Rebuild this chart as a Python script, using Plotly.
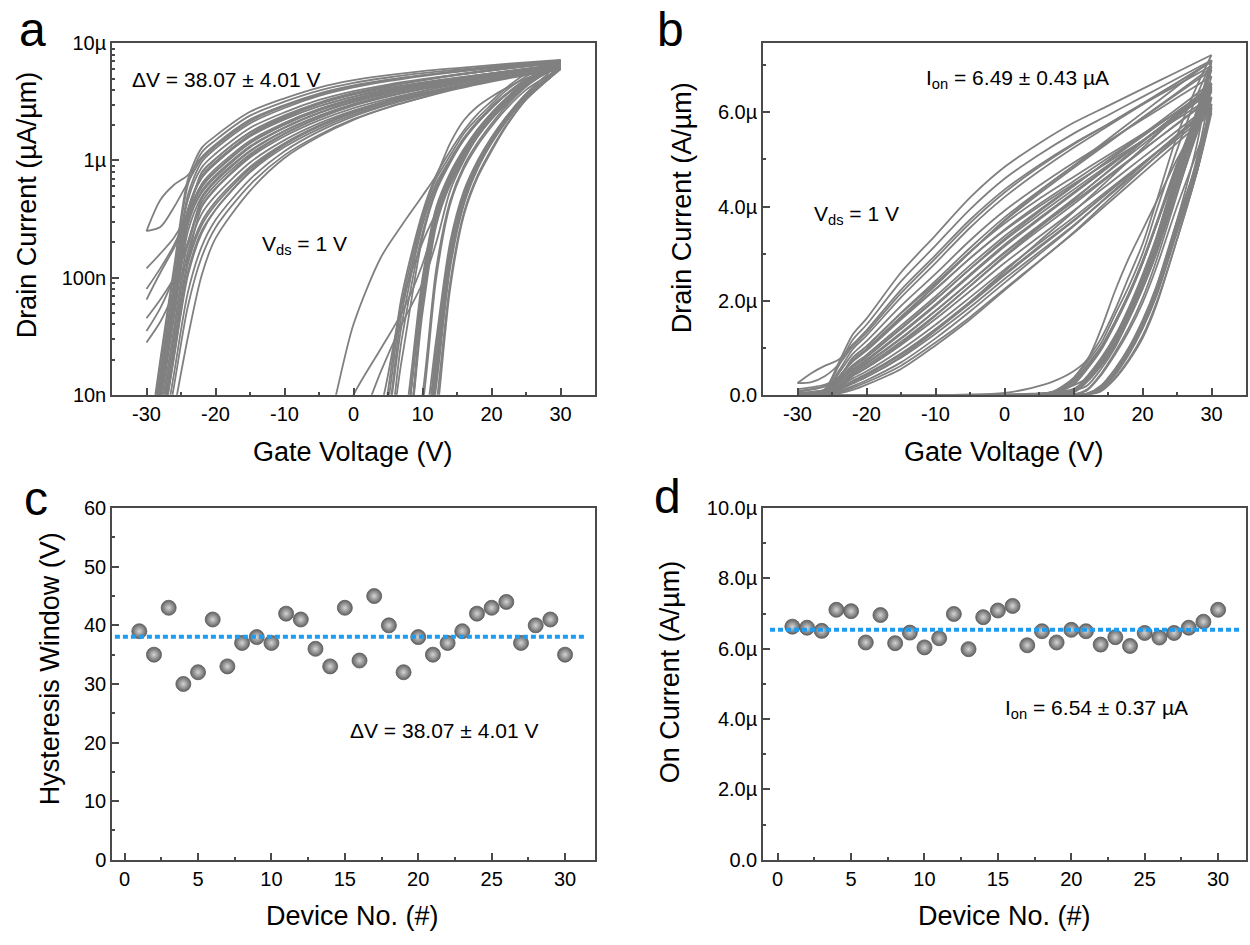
import numpy as np
import plotly.graph_objects as go

W, H = 1250, 945

# ---------------- data ----------------
# gate-voltage sample points of the backward (30 -> -30 V) and forward (-30 -> 30 V) sweeps
vg_backward = [30, 25, 20, 15, 10, 5, 0, -5, -10, -15, -20, -22, -24, -26, -28, -30]
vg_forward = [-30, -20, -10, -5, 0, 4, 7, 10, 12, 14, 16, 18, 20, 22, 25, 28, 30]

# drain current (uA/um) of the 30 devices, backward sweep
backward_ua = [
    [6.63, 6.08, 5.53, 4.98, 4.43, 3.89, 3.31, 2.68, 2.02, 1.40, 0.80, 0.59, 0.30, 0.056, 0.0093, 0.0016],
    [6.60, 5.92, 5.24, 4.56, 3.89, 3.26, 2.62, 1.97, 1.36, 0.81, 0.38, 0.24, 0.104, 0.021, 0.004, 0.0009],
    [6.51, 5.95, 5.39, 4.83, 4.27, 3.72, 3.15, 2.53, 1.89, 1.29, 0.72, 0.53, 0.32, 0.18, 0.11, 0.065],
    [7.11, 6.72, 6.33, 5.94, 5.55, 5.10, 4.59, 3.94, 3.17, 2.41, 1.49, 1.17, 0.62, 0.113, 0.0185, 0.0027],
    [7.07, 6.63, 6.19, 5.75, 5.32, 4.84, 4.30, 3.65, 2.90, 2.16, 1.32, 1.03, 0.65, 0.40, 0.27, 0.25],
    [6.18, 5.53, 4.88, 4.23, 3.58, 2.98, 2.38, 1.77, 1.20, 0.69, 0.31, 0.184, 0.075, 0.0153, 0.0031, 0.0008],
    [6.96, 6.42, 5.89, 5.35, 4.82, 4.27, 3.69, 3.03, 2.33, 1.66, 0.97, 0.73, 0.38, 0.070, 0.0117, 0.0018],
    [6.16, 5.48, 4.80, 4.13, 3.45, 2.83, 2.22, 1.60, 1.05, 0.55, 0.216, 0.105, 0.031, 0.0074, 0.0018, 0.0006],
    [6.46, 5.89, 5.31, 4.74, 4.16, 3.60, 3.03, 2.40, 1.78, 1.19, 0.66, 0.47, 0.20, 0.10, 0.055, 0.035],
    [6.04, 5.43, 4.82, 4.21, 3.60, 3.03, 2.46, 1.86, 1.30, 0.79, 0.38, 0.25, 0.112, 0.0217, 0.0041, 0.0009],
    [6.30, 5.75, 5.20, 4.65, 4.10, 3.57, 3.01, 2.40, 1.79, 1.21, 0.68, 0.49, 0.247, 0.046, 0.0079, 0.0013],
    [6.99, 6.58, 6.17, 5.75, 5.34, 4.88, 4.36, 3.72, 2.97, 2.23, 1.37, 1.07, 0.75, 0.62, 0.46, 0.25],
    [5.99, 5.35, 4.71, 4.07, 3.43, 2.84, 2.25, 1.65, 1.11, 0.62, 0.267, 0.150, 0.057, 0.012, 0.0025, 0.0007],
    [6.90, 6.39, 5.88, 5.37, 4.86, 4.33, 3.77, 3.12, 2.42, 1.74, 1.03, 0.78, 0.36, 0.22, 0.16, 0.12],
    [7.09, 6.63, 6.17, 5.71, 5.25, 4.75, 4.20, 3.55, 2.80, 2.07, 1.26, 0.97, 0.51, 0.094, 0.0155, 0.0023],
    [7.22, 6.86, 6.50, 6.14, 5.78, 5.34, 4.84, 4.19, 3.39, 2.60, 1.62, 1.28, 0.69, 0.124, 0.020, 0.0029],
    [6.10, 5.50, 4.90, 4.31, 3.71, 3.15, 2.57, 1.98, 1.40, 0.88, 0.445, 0.30, 0.14, 0.027, 0.0049, 0.001],
    [6.50, 5.95, 5.40, 4.85, 4.30, 3.75, 3.19, 2.56, 1.92, 1.32, 0.75, 0.55, 0.28, 0.051, 0.0088, 0.0015],
    [6.18, 5.61, 5.04, 4.47, 3.91, 3.36, 2.80, 2.20, 1.61, 1.06, 0.57, 0.40, 0.15, 0.075, 0.042, 0.028],
    [6.54, 6.02, 5.49, 4.97, 4.45, 3.92, 3.37, 2.75, 2.09, 1.47, 0.85, 0.63, 0.33, 0.060, 0.0101, 0.0016],
    [6.50, 6.01, 5.52, 5.03, 4.54, 4.05, 3.51, 2.90, 2.24, 1.60, 0.94, 0.71, 0.37, 0.068, 0.0114, 0.0018],
    [6.12, 5.51, 4.91, 4.30, 3.69, 3.12, 2.54, 1.94, 1.37, 0.85, 0.42, 0.28, 0.13, 0.025, 0.0046, 0.0009],
    [6.33, 5.76, 5.19, 4.62, 4.05, 3.50, 2.93, 2.31, 1.70, 1.13, 0.62, 0.44, 0.19, 0.10, 0.065, 0.045],
    [6.08, 5.50, 4.92, 4.35, 3.77, 3.22, 2.66, 2.07, 1.49, 0.96, 0.50, 0.35, 0.167, 0.032, 0.0056, 0.0011],
    [6.45, 5.93, 5.40, 4.88, 4.36, 3.83, 3.28, 2.67, 2.03, 1.42, 0.81, 0.61, 0.31, 0.057, 0.0097, 0.0016],
    [6.32, 5.86, 5.40, 4.94, 4.48, 4.00, 3.49, 2.90, 2.25, 1.63, 0.97, 0.73, 0.38, 0.070, 0.0117, 0.0018],
    [6.45, 6.00, 5.54, 5.09, 4.63, 4.16, 3.64, 3.04, 2.37, 1.73, 1.03, 0.79, 0.36, 0.19, 0.12, 0.08],
    [6.60, 5.98, 5.37, 4.75, 4.14, 3.55, 2.95, 2.31, 1.68, 1.09, 0.58, 0.41, 0.20, 0.0375, 0.0066, 0.0012],
    [6.77, 6.31, 5.85, 5.39, 4.93, 4.44, 3.91, 3.28, 2.57, 1.89, 1.14, 0.87, 0.46, 0.084, 0.0139, 0.0021],
    [7.11, 6.55, 5.99, 5.43, 4.87, 4.31, 3.71, 3.03, 2.32, 1.64, 0.95, 0.71, 0.37, 0.068, 0.0114, 0.0018],
]

# drain current (uA/um) of the 30 devices, forward sweep
forward_ua = [
    [.001, .001, .001, .001, .001, .002, .02, .22, .55, .95, 1.5, 2.1, 2.8, 3.6, 4.9, 6.0, 6.63],
    [.001, .001, .001, .001, .001, .001, .001, .002, .012, .12, .42, .85, 1.4, 2.1, 3.5, 5.1, 6.60],
    [.001, .001, .001, .002, .01, .025, .05, .13, .32, .72, 1.2, 1.8, 2.5, 3.3, 4.6, 5.8, 6.51],
    [.001, .001, .001, .001, .001, .001, .003, .09, .38, .75, 1.2, 1.8, 2.5, 3.3, 4.7, 6.1, 7.11],
    [.001, .001, .001, .001, .001, .004, .06, .33, .70, 1.1, 1.7, 2.3, 3.0, 3.9, 5.2, 6.4, 7.07],
    [.001, .001, .001, .001, .001, .001, .001, .003, .02, .16, .50, .95, 1.5, 2.2, 3.6, 5.0, 6.18],
    [.001, .001, .001, .001, .001, .001, .002, .07, .33, .68, 1.12, 1.7, 2.35, 3.1, 4.5, 5.9, 6.96],
    [.001, .001, .001, .001, .001, .001, .001, .001, .008, .09, .36, .75, 1.25, 1.95, 3.3, 4.8, 6.16],
    [.001, .001, .001, .003, .04, .15, .28, .50, .75, 1.4, 2.2, 2.9, 3.5, 4.1, 5.0, 5.8, 6.46],
    [.001, .001, .001, .001, .001, .001, .001, .008, .10, .42, .85, 1.35, 1.95, 2.7, 4.0, 5.2, 6.04],
    [.001, .001, .001, .001, .001, .003, .04, .28, .62, 1.0, 1.55, 2.15, 2.8, 3.6, 4.8, 5.8, 6.30],
    [.001, .001, .001, .001, .001, .001, .004, .10, .40, .78, 1.25, 1.85, 2.55, 3.35, 4.8, 6.1, 6.99],
    [.001, .001, .001, .001, .001, .001, .001, .002, .015, .14, .46, .90, 1.45, 2.15, 3.5, 4.8, 5.99],
    [.001, .001, .001, .001, .002, .008, .06, .20, .36, .62, 1.05, 1.65, 2.3, 3.1, 4.5, 5.9, 6.90],
    [.001, .001, .001, .001, .001, .001, .002, .06, .30, .66, 1.1, 1.68, 2.35, 3.15, 4.6, 6.0, 7.09],
    [.001, .001, .001, .001, .001, .005, .07, .36, .75, 1.2, 1.8, 2.5, 3.2, 4.1, 5.5, 6.6, 7.22],
    [.001, .001, .001, .001, .001, .001, .001, .002, .018, .15, .48, .92, 1.48, 2.2, 3.5, 4.9, 6.10],
    [.001, .001, .001, .001, .001, .001, .003, .08, .36, .72, 1.15, 1.72, 2.4, 3.15, 4.5, 5.7, 6.50],
    [.001, .001, .001, .001, .001, .001, .001, .003, .025, .18, .52, .98, 1.55, 2.25, 3.6, 4.9, 6.18],
    [.001, .001, .001, .001, .004, .016, .04, .09, .20, .55, 1.0, 1.6, 2.25, 3.0, 4.3, 5.6, 6.54],
    [.001, .001, .001, .001, .001, .002, .03, .24, .58, .98, 1.5, 2.1, 2.8, 3.6, 4.8, 5.9, 6.50],
    [.001, .001, .001, .001, .001, .001, .001, .001, .006, .08, .34, .72, 1.2, 1.9, 3.3, 4.8, 6.12],
    [.001, .001, .001, .001, .001, .001, .002, .05, .28, .62, 1.05, 1.6, 2.25, 3.0, 4.4, 5.6, 6.33],
    [.001, .001, .001, .001, .001, .001, .001, .002, .014, .13, .44, .88, 1.42, 2.1, 3.45, 4.8, 6.08],
    [.001, .001, .001, .001, .001, .001, .003, .09, .38, .74, 1.18, 1.75, 2.42, 3.2, 4.55, 5.8, 6.45],
    [.001, .001, .001, .001, .001, .001, .001, .004, .03, .20, .55, 1.0, 1.58, 2.3, 3.7, 5.0, 6.32],
    [.001, .001, .001, .001, .001, .003, .05, .30, .64, 1.02, 1.55, 2.15, 2.85, 3.65, 4.9, 5.9, 6.45],
    [.001, .001, .001, .001, .001, .001, .002, .06, .32, .68, 1.1, 1.66, 2.3, 3.1, 4.5, 5.8, 6.60],
    [.001, .001, .001, .001, .001, .001, .001, .01, .12, .45, .90, 1.42, 2.05, 2.85, 4.25, 5.7, 6.77],
    [.001, .001, .001, .001, .001, .001, .001, .002, .02, .17, .50, .95, 1.52, 2.28, 3.7, 5.4, 7.11],
]

device_no = list(range(1, 31))
hysteresis_v = [39, 35, 43, 30, 32, 41, 33, 37, 38, 37, 42, 41, 36, 33, 43,
                34, 45, 40, 32, 38, 35, 37, 39, 42, 43, 44, 37, 40, 41, 35]
on_current_ua = [6.63, 6.60, 6.51, 7.11, 7.07, 6.18, 6.96, 6.16, 6.46, 6.04,
                 6.30, 6.99, 5.99, 6.90, 7.09, 7.22, 6.10, 6.50, 6.18, 6.54,
                 6.50, 6.12, 6.33, 6.08, 6.45, 6.32, 6.45, 6.60, 6.77, 7.11]

# tick labels
vg_ticks = [-30, -20, -10, 0, 10, 20, 30]
vg_ticktext = ["-30", "-20", "-10", "0", "10", "20", "30"]
log_ticks = [1e-8, 1e-7, 1e-6, 1e-5]
log_ticktext = ["10n", "100n", "1\u00b5", "10\u00b5"]
lin_b_ticks = [0, 2e-6, 4e-6, 6e-6]
lin_b_ticktext = ["0.0", "2.0\u00b5", "4.0\u00b5", "6.0\u00b5"]
dev_ticks = [0, 5, 10, 15, 20, 25, 30]
dv_ticks = [0, 10, 20, 30, 40, 50, 60]
ion_ticks = [0, 2e-6, 4e-6, 6e-6, 8e-6, 10e-6]
ion_ticktext = ["0.0", "2.0\u00b5", "4.0\u00b5", "6.0\u00b5", "8.0\u00b5", "10.0\u00b5"]

# ---------------- styling ----------------
FONT = "Liberation Sans, Arial, Helvetica, sans-serif"
CURVE = "#808080"
AXC = "#4a4a4a"
BLUE = "#1e9cf0"


def fx(px):
    return px / W


def fy(py):
    return 1 - py / H


fig = go.Figure()

for i in range(len(backward_ua)):
    yb = [v * 1e-6 for v in backward_ua[i]]
    yf = [v * 1e-6 for v in forward_ua[i]]
    for xs, ys in ((vg_backward, yb), (vg_forward, yf)):
        for xa, ya in (("x", "y"), ("x2", "y2")):
            fig.add_trace(go.Scatter(
                x=xs, y=ys, xaxis=xa, yaxis=ya, mode="lines",
                line=dict(color=CURVE, width=1.8, shape="spline", smoothing=0.8),
                hoverinfo="skip", showlegend=False))

sphere = dict(size=15, color="#626262",
              gradient=dict(type="radial", color="#d4d4d4"),
              line=dict(width=0.8, color="#5a5a5a"))
fig.add_trace(go.Scatter(x=device_no, y=hysteresis_v, xaxis="x3", yaxis="y3",
                         mode="markers", marker=sphere, showlegend=False))
fig.add_trace(go.Scatter(x=device_no, y=[v * 1e-6 for v in on_current_ua],
                         xaxis="x4", yaxis="y4", mode="markers", marker=sphere,
                         showlegend=False))


def axis(**kw):
    base = dict(showline=True, linecolor=AXC, linewidth=1.5, mirror=True,
                ticks="inside", ticklen=7, tickwidth=1.5, tickcolor=AXC,
                showgrid=False, zeroline=False,
                tickfont=dict(family=FONT, size=20, color="black"))
    base.update(kw)
    return base


def minor(**kw):
    m = dict(ticks="inside", ticklen=3.5, tickwidth=1.5, tickcolor=AXC, showgrid=False)
    m.update(kw)
    return m


A_X = [fx(112), fx(595)]
B_X = [fx(763), fx(1246)]
TOP_Y = [fy(393), fy(33)]
BOT_Y = [fy(869), fy(509)]

log_minor = [m * 10.0 ** e for e in (-8, -7, -6) for m in range(2, 10)]

fig.update_layout(
    width=W, height=H, margin=dict(l=0, r=0, t=0, b=0),
    paper_bgcolor="white", plot_bgcolor="white", showlegend=False,
    font=dict(family=FONT, color="black"),
    xaxis=axis(domain=A_X, anchor="y", range=[-35, 35], tickmode="array",
               tickvals=vg_ticks, ticktext=vg_ticktext, minor=minor(dtick=5, tick0=0)),
    yaxis=axis(domain=TOP_Y, anchor="x", type="log", range=[-8, -5], tickmode="array",
               tickvals=log_ticks, ticktext=log_ticktext,
               minor=minor(tickmode="array", tickvals=log_minor)),
    xaxis2=axis(domain=B_X, anchor="y2", range=[-35, 35], tickmode="array",
                tickvals=vg_ticks, ticktext=vg_ticktext, minor=minor(dtick=5, tick0=0)),
    yaxis2=axis(domain=TOP_Y, anchor="x2", range=[0, 7.47e-6], tickmode="array",
                tickvals=lin_b_ticks, ticktext=lin_b_ticktext,
                minor=minor(dtick=1e-6, tick0=0)),
    xaxis3=axis(domain=A_X, anchor="y3", range=[-0.86, 32.04], tickmode="array",
                tickvals=dev_ticks, minor=minor(dtick=2.5, tick0=0)),
    yaxis3=axis(domain=BOT_Y, anchor="x3", range=[0, 60], tickmode="array",
                tickvals=dv_ticks, minor=minor(dtick=5, tick0=0)),
    xaxis4=axis(domain=B_X, anchor="y4", range=[-1.0, 31.9], tickmode="array",
                tickvals=dev_ticks, minor=minor(dtick=2.5, tick0=0)),
    yaxis4=axis(domain=BOT_Y, anchor="x4", range=[0, 10e-6], tickmode="array",
                tickvals=ion_ticks, ticktext=ion_ticktext,
                minor=minor(dtick=1e-6, tick0=0)),
)

# mean lines
fig.add_shape(type="line", xref="x3 domain", yref="y3", x0=0.006, x1=0.983,
              y0=float(np.mean(hysteresis_v)), y1=float(np.mean(hysteresis_v)),
              line=dict(color=BLUE, width=4, dash="5px,3px"), layer="above")
fig.add_shape(type="line", xref="x4 domain", yref="y4", x0=0.0145, x1=0.988,
              y0=float(np.mean(on_current_ua)) * 1e-6, y1=float(np.mean(on_current_ua)) * 1e-6,
              line=dict(color=BLUE, width=4, dash="5px,3px"), layer="above")


def note(text, x, y, size=21, angle=0):
    fig.add_annotation(text=text, x=fx(x), y=fy(y), xref="paper", yref="paper",
                       xanchor="center", yanchor="middle", showarrow=False,
                       textangle=angle, font=dict(family=FONT, size=size, color="black"))


# panel letters
note("a", 32, 19, size=48)
note("b", 670, 19, size=48)
note("c", 36, 499, size=48)
note("d", 667, 497, size=48)

# axis titles
note("Gate Voltage (V)", 353, 451, size=27)
note("Gate Voltage (V)", 1004, 452, size=27)
note("Device No. (#)", 352, 927, size=27)
note("Device No. (#)", 1004, 927, size=27)
note("Drain Current (\u00b5A/\u00b5m)", 27, 199, size=27, angle=-90)
note("Drain Current (A/\u00b5m)", 682, 202, size=27, angle=-90)
note("Hysteresis Window (V)", 50, 674, size=27, angle=-90)
note("On Current (A/\u00b5m)", 670, 677, size=27, angle=-90)

# in-plot texts
note("\u0394V = 38.07 \u00b1 4.01 V", 226, 70)
note("V<sub>ds</sub> = 1 V", 304, 240)
note("I<sub>on</sub> = 6.49 \u00b1 0.43 \u00b5A", 1017, 70)
note("V<sub>ds</sub> = 1 V", 856, 209)
note("\u0394V = 38.07 \u00b1 4.01 V", 444, 737)
note("I<sub>on</sub> = 6.54 \u00b1 0.37 \u00b5A", 1096, 715)

fig.write_html("out.html")
